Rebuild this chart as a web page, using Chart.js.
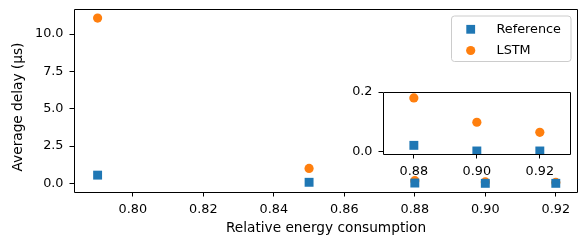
<!DOCTYPE html>
<html>
<head>
<meta charset="utf-8">
<script src="https://cdn.jsdelivr.net/npm/chart.js@4.4.1/dist/chart.umd.min.js"></script>
<style>
  html, body { margin: 0; padding: 0; background: #fff; }
  #wrap { position: relative; width: 587px; height: 245px; }
  #main { position: absolute; left: 0; top: 0; }
  #inset { position: absolute; left: 323px; top: 80px; }
</style>
</head>
<body>
<div id="wrap">
  <canvas id="main" width="587" height="245"></canvas>
  <canvas id="inset" width="257" height="100"></canvas>
</div>
<script>
// ---- data ----
const energy = [0.79, 0.85, 0.88, 0.90, 0.92];
const refDelay = [0.55, 0.07, 0.02, 0.001, 0.001];
const lstmDelay = [11.07, 1.0, 0.18, 0.098, 0.064];
const seriesNames = ['Reference', 'LSTM'];
const xTicksMain = [0.80, 0.82, 0.84, 0.86, 0.88, 0.90, 0.92];
const yTicksMain = [0, 2.5, 5, 7.5, 10];
const xTicksInset = [0.88, 0.90, 0.92];
const yTicksInset = [0, 0.2];
const xLabel = 'Relative energy consumption';
const yLabel = 'Average delay (μs)';

const BLUE = '#1f77b4', ORANGE = '#ff7f0e';
const TICK_FONT = { family: 'DejaVu Sans', size: 12.8 };
const TITLE_FONT = { family: 'DejaVu Sans', size: 13.7 };
const LEGEND_FONT = { family: 'DejaVu Sans', size: 12.8 };

function pts(xs, ys) { return xs.map((x, i) => ({ x: x, y: ys[i] })); }

function makeDatasets() {
  return [
    { label: seriesNames[0], data: pts(energy, refDelay), backgroundColor: BLUE, borderColor: BLUE,
      pointStyle: 'rect', pointRadius: 6.3, pointHoverRadius: 6.3, borderWidth: 0 },
    { label: seriesNames[1], data: pts(energy, lstmDelay), backgroundColor: ORANGE, borderColor: ORANGE,
      pointStyle: 'circle', pointRadius: 4.6, pointHoverRadius: 4.6, borderWidth: 0 }
  ];
}

const frame = {
  id: 'frame',
  beforeDatasetsDraw(chart, args, opts) {
    if (opts.fill) {
      const a = chart.chartArea;
      const c = chart.ctx;
      c.save(); c.fillStyle = '#fff';
      c.fillRect(a.left, a.top, a.right - a.left, a.bottom - a.top);
      c.restore();
    }
  },
  afterDatasetsDraw(chart) {
    const a = chart.chartArea;
    const c = chart.ctx;
    const l = Math.round(a.left) + 0.5, r = Math.round(a.right) - 0.5;
    const t = Math.round(a.top) + 0.5, b = Math.round(a.bottom) + 0.5;
    c.save();
    c.strokeStyle = '#000'; c.lineWidth = 1;
    c.beginPath();
    c.moveTo(l, t); c.lineTo(r, t); c.lineTo(r, b); c.lineTo(l, b); c.closePath();
    c.stroke();
    c.restore();
  }
};

const legendBox = {
  id: 'legendBox',
  afterDraw(chart) {
    const c = chart.ctx;
    const x0 = 451.5, y0 = 16, w = 119.5, h = 45.5, r = 3;
    c.save();
    c.beginPath();
    c.moveTo(x0 + r, y0); c.lineTo(x0 + w - r, y0); c.quadraticCurveTo(x0 + w, y0, x0 + w, y0 + r);
    c.lineTo(x0 + w, y0 + h - r); c.quadraticCurveTo(x0 + w, y0 + h, x0 + w - r, y0 + h);
    c.lineTo(x0 + r, y0 + h); c.quadraticCurveTo(x0, y0 + h, x0, y0 + h - r);
    c.lineTo(x0, y0 + r); c.quadraticCurveTo(x0, y0, x0 + r, y0);
    c.closePath();
    c.fillStyle = 'rgba(255,255,255,0.8)'; c.fill();
    c.strokeStyle = '#cccccc'; c.lineWidth = 1; c.stroke();
    const rows = [29.3, 50.5];
    chart.data.datasets.forEach((ds, i) => {
      const cy = rows[i], cx = 470.7;
      c.fillStyle = ds.backgroundColor;
      if (ds.pointStyle === 'rect') {
        c.fillRect(cx - 4.4, cy - 4.4, 8.8, 8.8);
      } else {
        c.beginPath(); c.arc(cx, cy, 4.6, 0, Math.PI * 2); c.fill();
      }
      c.fillStyle = '#000';
      c.font = LEGEND_FONT.size + 'px "' + LEGEND_FONT.family + '"';
      c.textBaseline = 'middle'; c.textAlign = 'left';
      c.fillText(ds.label, 496.5, cy + 0.5);
    });
    c.restore();
  }
};

function axis(opts) {
  return Object.assign({
    type: 'linear',
    grid: { drawOnChartArea: false, drawTicks: true, tickLength: 4.5, color: '#000', tickWidth: 1 },
    border: { display: false },
  }, opts);
}
function noPadV(s) { s.paddingTop = 0; s.paddingBottom = 0; }
function noPadH(s) { s.paddingLeft = 0; s.paddingRight = 0; }

new Chart(document.getElementById('main'), {
  type: 'scatter',
  data: { datasets: makeDatasets() },
  options: {
    responsive: false, animation: false, devicePixelRatio: 1,
    layout: { padding: { left: 6, right: 9, top: 9, bottom: 0 } },
    plugins: { legend: { display: false }, tooltip: { enabled: false }, frame: {}, },
    scales: {
      x: axis({
        min: 0.7833, max: 0.9263,
        afterBuildTicks: s => { s.ticks = xTicksMain.map(v => ({ value: v })); },
        ticks: { callback: v => Number(v).toFixed(2), color: '#000', font: TICK_FONT, padding: 5, maxRotation: 0, autoSkip: false },
        title: { display: true, text: xLabel, color: '#000', font: TITLE_FONT, padding: { top: 2, bottom: 8 } },
        afterFit: s => { s.height = 53; noPadH(s); }
      }),
      y: axis({
        min: -0.58, max: 11.68,
        afterBuildTicks: s => { s.ticks = yTicksMain.map(v => ({ value: v })); },
        ticks: { callback: v => Number(v).toFixed(1), color: '#000', font: TICK_FONT, padding: 6, autoSkip: false },
        title: { display: true, text: yLabel + '   ', color: '#000', font: TITLE_FONT, padding: { top: 4, bottom: 4 } },
        afterFit: s => { s.width = 68; noPadV(s); }
      })
    }
  },
  plugins: [frame, legendBox]
});

new Chart(document.getElementById('inset'), {
  type: 'scatter',
  data: { datasets: makeDatasets() },
  options: {
    responsive: false, animation: false, devicePixelRatio: 1,
    layout: { padding: { left: 0, right: 9, top: 12, bottom: 0 } },
    plugins: { legend: { display: false }, tooltip: { enabled: false }, frame: { fill: true } },
    scales: {
      x: axis({
        min: 0.8702, max: 0.9299,
        afterBuildTicks: s => { s.ticks = xTicksInset.map(v => ({ value: v })); },
        ticks: { callback: v => Number(v).toFixed(2), color: '#000', font: TICK_FONT, padding: 5, maxRotation: 0, autoSkip: false },
        afterFit: s => { s.height = 26; noPadH(s); }
      }),
      y: axis({
        min: -0.0092, max: 0.2,
        afterBuildTicks: s => { s.ticks = yTicksInset.map(v => ({ value: v })); },
        ticks: { callback: v => Number(v).toFixed(1), color: '#000', font: TICK_FONT, padding: 6, autoSkip: false },
        afterFit: s => { s.width = 60; noPadV(s); }
      })
    }
  },
  plugins: [frame]
});
</script>
</body>
</html>
